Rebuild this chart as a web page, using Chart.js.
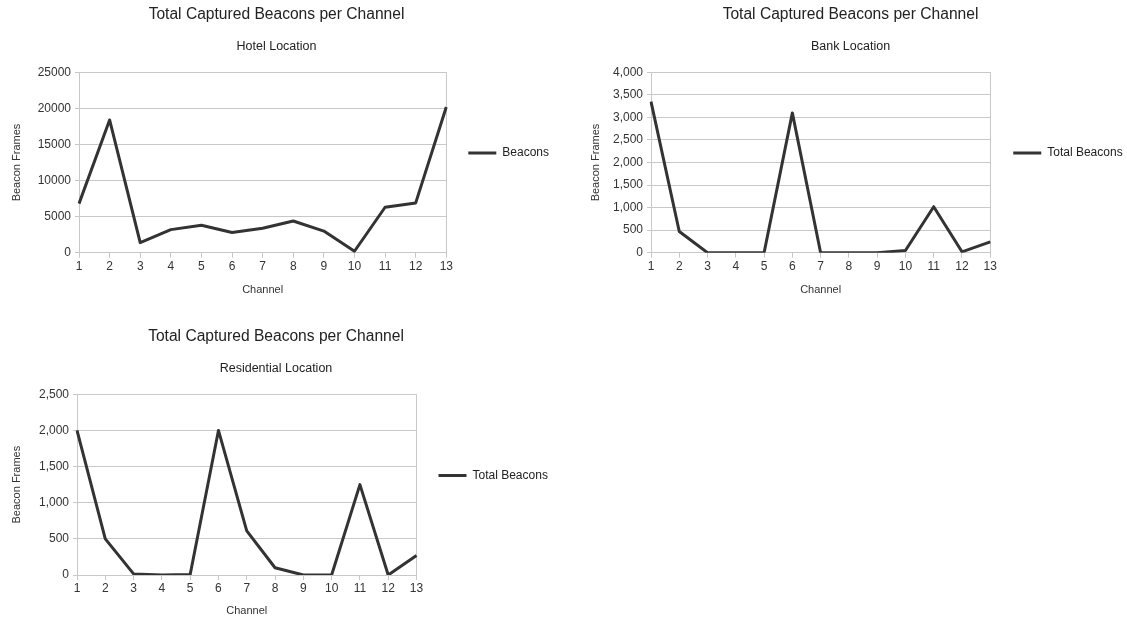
<!DOCTYPE html>
<html>
<head>
<meta charset="utf-8">
<script src="https://cdn.jsdelivr.net/npm/chart.js@4.4.1/dist/chart.umd.min.js"></script>
<style>
  html, body { margin: 0; padding: 0; background: #fff; overflow: hidden; width: 1127px; height: 619px; }
  .box { position: absolute; }
</style>
</head>
<body>
<div class="box" id="hotelBox"><canvas id="hotelChart"></canvas></div>
<div class="box" id="bankBox"><canvas id="bankChart"></canvas></div>
<div class="box" id="resBox"><canvas id="resChart"></canvas></div>

<script>
// Data
const channels = ['1', '2', '3', '4', '5', '6', '7', '8', '9', '10', '11', '12', '13'];
const hotelBeacons = [6800, 18400, 1400, 3200, 3800, 2800, 3400, 4400, 3000, 200, 6300, 6900, 20200];
const bankBeacons = [3350, 470, 0, 0, 0, 3100, 0, 0, 0, 50, 1020, 20, 240];
const residentialBeacons = [2000, 500, 15, 0, 8, 2000, 610, 100, 0, 0, 1250, 0, 270];

const hotelAxis = { max: 25000, step: 5000 };
const bankAxis = { max: 4000, step: 500 };
const residentialAxis = { max: 2500, step: 500 };

const mainTitle = 'Total Captured Beacons per Channel';
const gridColor = '#c8c8c8';
const lineColor = '#333333';
const textColor = '#222222';

Chart.defaults.font.family = '"Liberation Sans", Arial, Helvetica, sans-serif';
Chart.defaults.animation = false;

function makeChart(boxId, canvasId, place, opts) {
    const box = document.getElementById(boxId);
    box.style.left = place.left + 'px';
    box.style.top = place.top + 'px';
    const canvas = document.getElementById(canvasId);
    canvas.width = place.width;
    canvas.height = place.height;
    canvas.style.width = place.width + 'px';
    canvas.style.height = place.height + 'px';

    return new Chart(canvas.getContext('2d'), {
        type: 'line',
        data: {
            labels: channels,
            datasets: [{
                label: opts.seriesName,
                data: opts.values,
                borderColor: lineColor,
                backgroundColor: lineColor,
                borderWidth: 3,
                borderJoinStyle: 'round',
                pointRadius: 0,
                tension: 0,
                fill: false
            }]
        },
        options: {
            responsive: false,
            plugins: {
                title: {
                    display: true,
                    text: mainTitle,
                    color: textColor,
                    font: { size: 15.6, weight: 'normal' },
                    padding: { top: 5.6, bottom: 7.4 }
                },
                subtitle: {
                    display: true,
                    text: opts.subtitle,
                    color: textColor,
                    font: { size: 12.5, weight: 'normal' },
                    padding: { top: 7.5, bottom: 18.1 }
                },
                legend: {
                    position: 'right',
                    align: 'center',
                    labels: {
                        usePointStyle: true,
                        pointStyle: 'line',
                        pointStyleWidth: 28,
                        padding: place.legendPad,
                        color: textColor,
                        font: { size: 12 }
                    }
                },
                tooltip: { enabled: false }
            },
            scales: {
                x: {
                    type: 'category',
                    offset: false,
                    grid: {
                        color: ctx => (ctx.index === channels.length - 1 ? gridColor : 'transparent'),
                        tickColor: gridColor,
                        tickLength: 5
                    },
                    border: { display: true, color: gridColor },
                    ticks: { color: '#333', font: { size: 12 }, padding: 1.5, maxRotation: 0, autoSkip: false },
                    title: {
                        display: true,
                        text: 'Channel',
                        color: '#333',
                        font: { size: 11 },
                        padding: { top: 4, bottom: place.xTitlePad }
                    },
                    afterFit: s => { s.height = place.xAxisH; }
                },
                y: {
                    min: 0,
                    max: opts.axis.max,
                    grid: { color: gridColor, tickLength: 4 },
                    border: { display: true, color: gridColor },
                    ticks: {
                        stepSize: opts.axis.step,
                        color: '#333',
                        font: { size: 12 },
                        padding: 4,
                        callback: opts.fmt
                    },
                    title: {
                        display: true,
                        text: 'Beacon Frames',
                        color: '#333',
                        font: { size: 11 },
                        padding: { top: place.yTitlePad, bottom: 0 }
                    },
                    afterFit: s => { s.width = place.yAxisW; }
                }
            }
        }
    });
}

const plain = v => String(v);
const withCommas = v => Number(v).toLocaleString('en-US');

makeChart('hotelBox', 'hotelChart',
    { left: -6, top: 0, width: 565, height: 306, yAxisW: 85, xAxisH: 53.3, xTitlePad: 9, yTitlePad: 16, legendPad: 22 },
    { seriesName: 'Beacons', values: hotelBeacons, subtitle: 'Hotel Location', axis: hotelAxis, fmt: plain });

makeChart('bankBox', 'bankChart',
    { left: 571, top: 0, width: 559, height: 306, yAxisW: 80, xAxisH: 53.3, xTitlePad: 9, yTitlePad: 18, legendPad: 23 },
    { seriesName: 'Total Beacons', values: bankBeacons, subtitle: 'Bank Location', axis: bankAxis, fmt: withCommas });

makeChart('resBox', 'resChart',
    { left: -5, top: 322, width: 562, height: 307, yAxisW: 82, xAxisH: 54, xTitlePad: 11, yTitlePad: 15, legendPad: 22 },
    { seriesName: 'Total Beacons', values: residentialBeacons, subtitle: 'Residential Location', axis: residentialAxis, fmt: withCommas });
</script>
</body>
</html>
